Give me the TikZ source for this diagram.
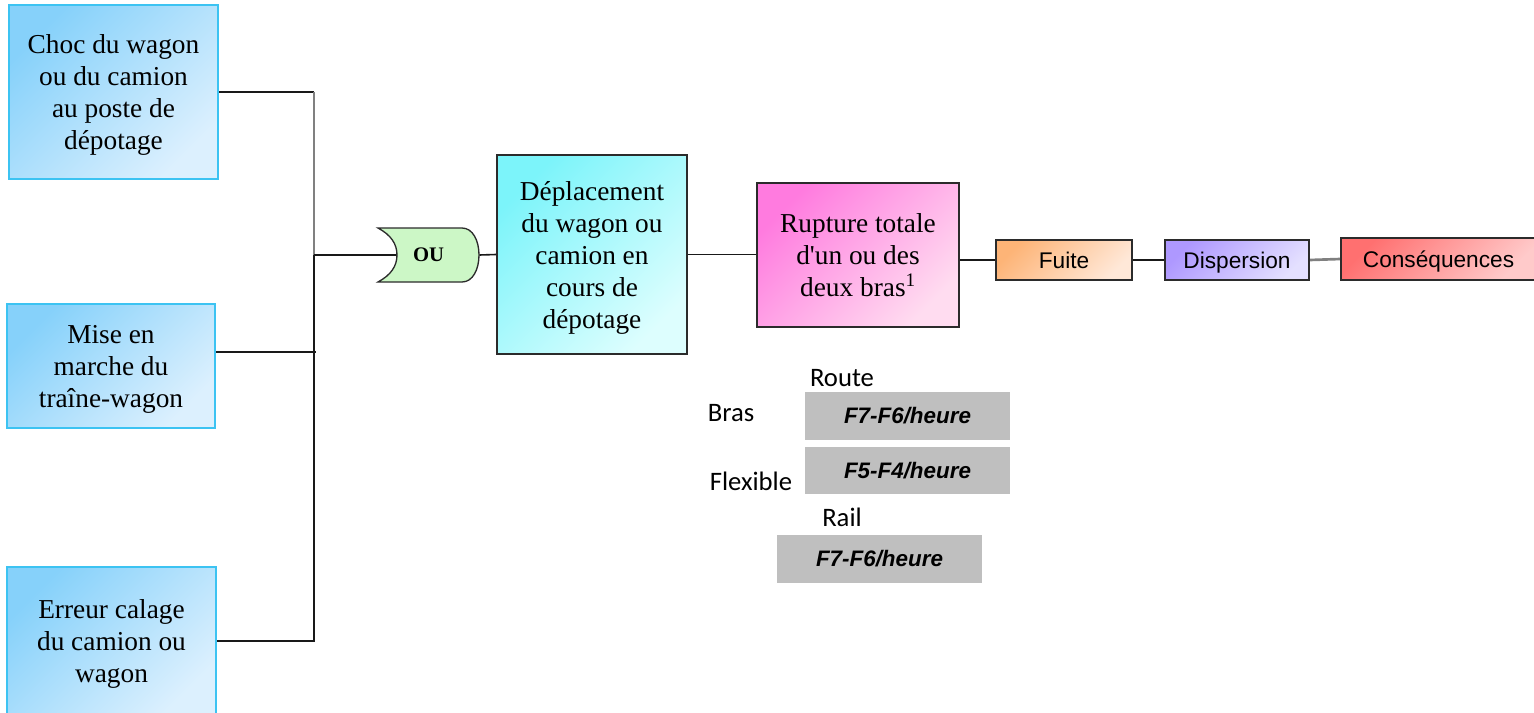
\documentclass[tikz,border=0pt]{standalone}
\usepackage{fontspec}
\setmainfont{Liberation Serif}
\newfontfamily\labelfont{Carlito}
\newfontfamily\boxsans{Liberation Sans}
\usetikzlibrary{calc,backgrounds}

% palette
\definecolor{causeborder}{HTML}{3CC3F2}
\definecolor{causeA}{HTML}{86D1FA}
\definecolor{causeB}{HTML}{DCF0FE}
\definecolor{cyanA}{HTML}{7CF4FA}
\definecolor{cyanB}{HTML}{DDFEFE}
\definecolor{pinkA}{HTML}{FF7BDF}
\definecolor{pinkB}{HTML}{FFDCF0}
\definecolor{orangeA}{HTML}{FDB477}
\definecolor{orangeB}{HTML}{FFE8D8}
\definecolor{violetA}{HTML}{AE98FF}
\definecolor{violetB}{HTML}{E4E0FF}
\definecolor{redA}{HTML}{FF7070}
\definecolor{redB}{HTML}{FFCACA}
\definecolor{gateFill}{HTML}{CCF7C6}
\definecolor{freqGray}{HTML}{BFBFBF}
\definecolor{boxEdge}{HTML}{2B2B2B}

\begin{document}
\begin{tikzpicture}[x=0.75pt,y=-0.75pt,
  serifbox/.style={align=center, inner sep=0pt, text depth=0pt,
    font=\fontsize{20.5}{24}\selectfont},
  cause/.style={serifbox, draw=causeborder, line width=1.1pt,
    top color=causeA, bottom color=causeB, shading angle=45},
  event/.style={serifbox, draw=boxEdge, line width=1.1pt, shading angle=45},
  small/.style={draw=boxEdge, line width=1.1pt, inner sep=0pt,
    font=\boxsans\fontsize{17}{20}\selectfont, minimum height=30pt,
    text height=13pt, text depth=0.5pt},
  freq/.style={fill=freqGray, inner sep=0pt, minimum width=153.75pt,
    minimum height=36pt, font=\boxsans\bfseries\itshape\fontsize{16.8}{20}\selectfont},
  lbl/.style={inner sep=0pt, font=\labelfont\fontsize{20}{24}\selectfont},
  wire/.style={draw=black!90, line width=1.2pt},
  graywire/.style={draw=black!50, line width=2pt}]

\clip (0,0) rectangle (1534,713);

% initiating causes
\node[cause, minimum width=156.75pt, minimum height=130.5pt] (b1) at (113.5,92)
  {Choc du wagon\\ou du camion\\au poste de\\dépotage};
\node[cause, minimum width=156pt, minimum height=93pt] (b2) at (111,366)
  {Mise en\\marche du\\traîne-wagon};
\node[cause, minimum width=156.75pt, minimum height=111pt] (b3) at (111.5,641)
  {Erreur calage\\du camion ou\\wagon};

% OR gate
\draw[draw=boxEdge, line width=1pt, fill=gateFill]
  (378,228) -- (462,228) .. controls (473,228) and (479,241) .. (479,255)
  .. controls (479,269) and (473,282) .. (462,282) -- (378,282)
  .. controls (391,275) and (397,266) .. (397,255)
  .. controls (397,244) and (391,235) .. (378,228) -- cycle;
\node[inner sep=0pt, minimum width=75.75pt, minimum height=40.5pt,
  font=\bfseries\fontsize{15.5}{18}\selectfont] (ou) at (428.5,255) {OU};

% event chain
\node[event, top color=cyanA, bottom color=cyanB, shading angle=45,
  minimum width=142.5pt, minimum height=149.25pt] (dep) at (592,254.5)
  {Déplacement\\du wagon ou\\camion en\\cours de\\dépotage};
\node[event, top color=pinkA, bottom color=pinkB, shading angle=45,
  minimum width=151.5pt, minimum height=108pt] (rup) at (858,255)
  {Rupture totale\\d\textquotesingle un ou des\\deux bras\textsuperscript{1}};
\node[small, top color=orangeA, bottom color=orangeB, shading angle=45,
  minimum width=102pt] (fuite) at (1064,260) {Fuite};
\node[small, top color=violetA, bottom color=violetB, shading angle=45,
  minimum width=108pt] (disp) at (1237,260) {Dispersion};
\node[small, top color=redA, bottom color=redB, shading angle=45,
  minimum width=146.25pt, minimum height=31.5pt] (cons) at (1438.5,259) {Conséquences};

% frequencies
\node[freq] (fr1) at (907.5,416) {F7-F6/heure};
\node[freq, minimum height=35.25pt] (fr2) at (907.5,470.5) {F5-F4/heure};
\node[freq] (fr3) at (879.5,559) {F7-F6/heure};
\node[lbl] (route) at (842,378) {Route};
\node[lbl] (bras) at (731,413) {Bras};
\node[lbl] (flex) at (751,481) {Flexible};
\node[lbl] (rail) at (842,517) {Rail};

% connectors
\begin{scope}[on background layer]
  \coordinate (j) at (314,255);
  \coordinate (b2out) at ([yshift=10.5pt]b2.east);
  \draw[wire] (b1.east) -- (b1.east -| j);
  \draw[graywire] (b1.east -| j) -- (j);
  \draw[wire] (b2out) -- ([xshift=1.5pt]b2out -| j);
  \draw[wire] (b3.east) -| (j);
  \draw[wire] (j) -- (ou.center);
  \draw[wire] (ou.east) -- (dep.west);
  \draw[wire] (dep.east) -- (rup.west |- dep.east);
  \draw[wire] (fuite.west -| rup.east) -- (fuite.west);
  \draw[wire] (fuite.east) -- (disp.west);
  \draw[graywire] (disp.east) -- (cons.west);
\end{scope}
\end{tikzpicture}
\end{document}
